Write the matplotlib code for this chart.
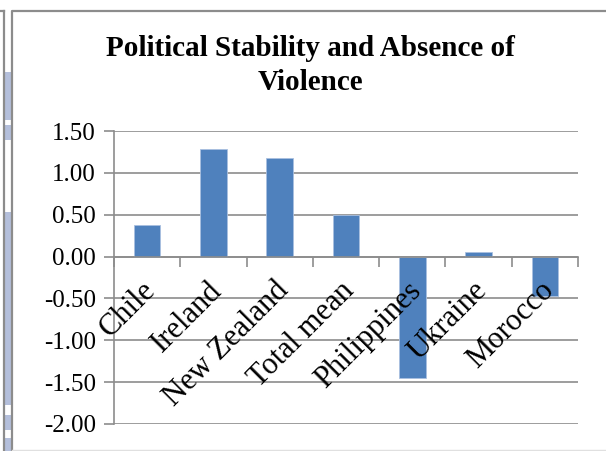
import matplotlib
matplotlib.use('Agg')
import matplotlib.pyplot as plt
from matplotlib.patches import Rectangle
from matplotlib.lines import Line2D
from matplotlib.transforms import ScaledTranslation

countries = ['Chile', 'Ireland', 'New Zealand', 'Total mean', 'Philippines', 'Ukraine', 'Morocco']
stability = [0.38, 1.28, 1.18, 0.50, -1.45, 0.06, -0.47]
yticks = [1.5, 1.0, 0.5, 0.0, -0.5, -1.0, -1.5, -2.0]

W, H = 606, 451
fig = plt.figure(figsize=(W / 100, H / 100), dpi=100)


def fx(px):
    return px / W


def fy(py):
    return 1 - py / H


# page artefacts on the left + chart frame
for y0, y1 in [(72, 120), (125, 140), (212, 405), (415, 430), (438, 451)]:
    fig.patches.append(Rectangle((fx(5), fy(y1)), fx(6), (y1 - y0) / H,
                                 transform=fig.transFigure, color='#b4bfdb', lw=0))
fig.lines.append(Line2D([fx(3.5), fx(3.5)], [fy(11), 0], transform=fig.transFigure,
                        color='#8c8c8c', lw=1.6))
fig.lines.append(Line2D([fx(0), fx(3.5)], [fy(11), fy(11)], transform=fig.transFigure,
                        color='#8c8c8c', lw=1.6))
fig.lines.append(Line2D([fx(11.8), fx(11.8), 1], [fy(450), fy(10.8), fy(10.8)],
                        transform=fig.transFigure, color='#8c8c8c', lw=1.6))
fig.lines.append(Line2D([fx(11.8), 1], [fy(450), fy(450)], transform=fig.transFigure,
                        color='#e0e0e0', lw=1.0))

ax = fig.add_axes([fx(114), fy(424), fx(578) - fx(114), fy(131) - fy(424)])
x = list(range(len(countries)))
ax.bar(x, stability, width=0.4, color='#4f81bd', edgecolor='#a9c0e0', linewidth=0.6, zorder=2)

ax.set_xlim(-0.5, len(countries) - 0.5)
ax.set_ylim(-2.0, 1.5)
ax.set_yticks(yticks)
ax.set_yticklabels(['%.2f' % v for v in yticks])
ax.yaxis.grid(True, color='#8c8c8c', lw=1.2)
ax.yaxis.set_zorder(1)
ax.xaxis.set_zorder(5)

for s in ['top', 'right']:
    ax.spines[s].set_visible(False)
ax.spines['left'].set_color('#8c8c8c')
ax.spines['left'].set_linewidth(1.2)
ax.spines['bottom'].set_position(('data', 0))
ax.spines['bottom'].set_color('#8c8c8c')
ax.spines['bottom'].set_linewidth(1.2)
ax.spines['bottom'].set_zorder(4)

ax.set_xticks(x)
ax.set_xticklabels(countries, rotation=45, ha='right', rotation_mode='anchor',
                   family='Liberation Serif', fontsize=22)
ax.tick_params(axis='x', length=0, pad=14)
shift = ScaledTranslation(-6 / 100, 0, fig.dpi_scale_trans)
for lab in ax.get_xticklabels():
    lab.set_transform(lab.get_transform() + shift)
ax.set_xticks([i - 0.5 for i in range(len(countries) + 1)], minor=True)
ax.tick_params(axis='x', which='minor', length=7, width=1.2, color='#8c8c8c', direction='out')
ax.tick_params(axis='y', length=7, width=1.2, color='#8c8c8c', pad=6)
for lab in ax.get_yticklabels():
    lab.set_family('Liberation Serif')
    lab.set_fontsize(18)

fig.text(fx(310), fy(49), 'Political Stability and Absence of', ha='center', va='center',
         family='Liberation Serif', fontweight='bold', fontsize=21)
fig.text(fx(310), fy(83), 'Violence', ha='center', va='center',
         family='Liberation Serif', fontweight='bold', fontsize=21)

fig.savefig('out.png', dpi=100)
